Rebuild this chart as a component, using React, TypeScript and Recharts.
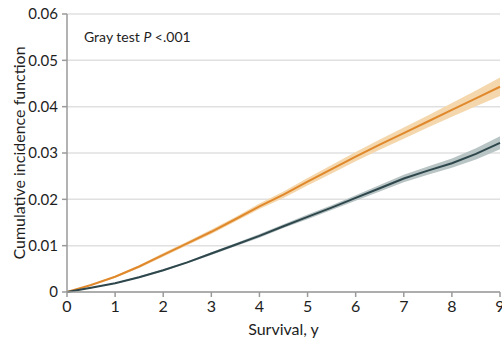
import { ComposedChart, Area, Line, XAxis, YAxis, CartesianGrid } from "recharts"

// Survival time, years
const years = [0, 0.5, 1, 1.5, 2, 2.5, 3, 3.5, 4, 4.5, 5, 5.5, 6, 6.5, 7, 7.5, 8, 8.5, 9]

// Orange group: estimate + 95% CI
const orangeCif = [0, 0.0015, 0.0033, 0.0055, 0.008, 0.0105, 0.013, 0.0157, 0.0185, 0.021, 0.0238, 0.0265, 0.0292, 0.0318, 0.0343, 0.0368, 0.0393, 0.0418, 0.0443]
const orangeLower = [0, 0.0014, 0.0031, 0.0052, 0.0076, 0.0101, 0.0125, 0.0152, 0.0179, 0.0203, 0.023, 0.0256, 0.0282, 0.0307, 0.0331, 0.0355, 0.0378, 0.0401, 0.0423]
const orangeUpper = [0, 0.0016, 0.0035, 0.0058, 0.0084, 0.0109, 0.0135, 0.0162, 0.0191, 0.0217, 0.0246, 0.0274, 0.0302, 0.0329, 0.0355, 0.0381, 0.0408, 0.0435, 0.0463]

// Dark group: estimate + 95% CI
const darkCif = [0, 0.0009, 0.0019, 0.0032, 0.0047, 0.0064, 0.0083, 0.0102, 0.0121, 0.0142, 0.0162, 0.0182, 0.0203, 0.0224, 0.0245, 0.0262, 0.0278, 0.0298, 0.0322]
const darkLower = [0, 0.0008, 0.0018, 0.003, 0.0045, 0.0062, 0.008, 0.0099, 0.0117, 0.0138, 0.0157, 0.0177, 0.0197, 0.0217, 0.0237, 0.0253, 0.0268, 0.0286, 0.0308]
const darkUpper = [0, 0.001, 0.002, 0.0034, 0.0049, 0.0066, 0.0086, 0.0105, 0.0125, 0.0146, 0.0167, 0.0187, 0.0209, 0.0231, 0.0253, 0.0271, 0.0288, 0.031, 0.0336]

const xTicks = [0, 1, 2, 3, 4, 5, 6, 7, 8, 9]
const yTicks = [0, 0.01, 0.02, 0.03, 0.04, 0.05, 0.06]

const data = years.map((t, i) => ({
  t,
  orange: orangeCif[i],
  orangeBand: [orangeLower[i], orangeUpper[i]],
  dark: darkCif[i],
  darkBand: [darkLower[i], darkUpper[i]],
}))

const font = "Lato, 'Open Sans', sans-serif"
const axisGray = "#9a9a9a"

export default function App() {
  return (
    <div style={{ position: "absolute", left: 0, top: 0, width: 502, height: 339, overflow: "hidden", fontFamily: font }}>
      <ComposedChart width={502} height={339} data={data} margin={{ top: 14, right: 2, left: 0, bottom: 0 }}>
        <CartesianGrid vertical={false} stroke="#e0e0e0" strokeWidth={1.5} />
        <XAxis
          dataKey="t"
          type="number"
          domain={[0, 9]}
          ticks={xTicks}
          interval={0}
          height={47}
          tickSize={5}
          stroke={axisGray}
          strokeWidth={1.5}
          tick={{ fill: "#1e1e1e", fontSize: 16, fontFamily: font, dy: 2 }}
          label={{ value: "Survival, y", position: "insideBottom", offset: 4, fill: "#1e1e1e", fontSize: 16, fontFamily: font }}
        />
        <YAxis
          type="number"
          domain={[0, 0.06]}
          ticks={yTicks}
          interval={0}
          width={67}
          tickSize={5}
          stroke={axisGray}
          strokeWidth={1.5}
          tickFormatter={(v: number) => (v === 0 ? "0" : v.toFixed(2))}
          tick={{ fill: "#1e1e1e", fontSize: 15, fontFamily: font, dx: -2 }}
          label={{ value: "Cumulative incidence function", angle: -90, position: "insideLeft", offset: 19, style: { textAnchor: "middle" }, fill: "#1e1e1e", fontSize: 16, fontFamily: font }}
        />
        <Area dataKey="orangeBand" stroke="none" fill="#f5d7ad" fillOpacity={1} isAnimationActive={false} />
        <Area dataKey="darkBand" stroke="none" fill="#b9c4c4" fillOpacity={1} isAnimationActive={false} />
        <Line dataKey="orange" stroke="#e0892c" strokeWidth={2} dot={false} isAnimationActive={false} />
        <Line dataKey="dark" stroke="#2e474c" strokeWidth={2} dot={false} isAnimationActive={false} />
      </ComposedChart>
      <div style={{ position: "absolute", left: 84, top: 28, fontSize: 14, color: "#1e1e1e" }}>
        Gray test <i>P</i> &lt;.001
      </div>
    </div>
  )
}
